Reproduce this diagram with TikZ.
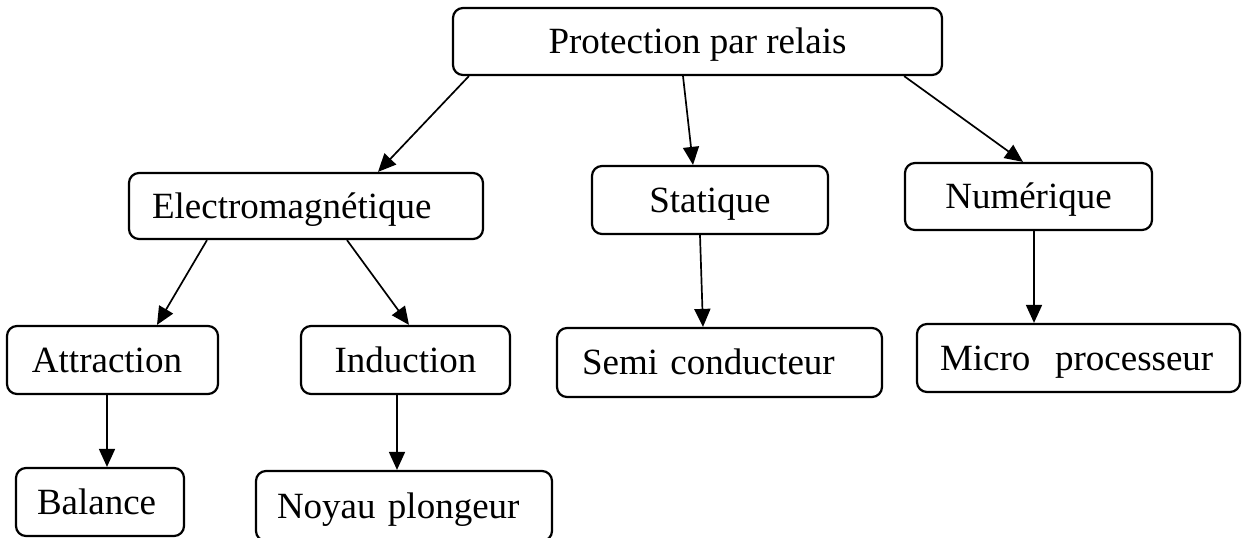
\documentclass[tikz,border=0pt]{standalone}
\usepackage{fontspec}
\setmainfont{Liberation Serif}
\usetikzlibrary{positioning, arrows.meta}

\tikzset{
  boite/.style={draw, line width=1.1pt, rounded corners=5pt, inner sep=0pt,
    font=\fontsize{18.5}{22}\selectfont, text height=12.2pt, text depth=0pt},
  centre/.style 2 args={boite, minimum width=#1, minimum height=#2},
  gauche/.style n args={3}{boite, text width=#1, inner xsep=#2, align=left, minimum height=#3},
  fleche/.style={line width=0.85pt, -{Triangle[length=9pt,width=8pt]}}
}

\begin{document}
\begin{tikzpicture}[x=0.5pt, y=-0.5pt]
        \useasboundingbox (0,0) rectangle (1242,537);
        \node[centre={244.5pt}{33.5pt}] (prot) at (697.5,41.5) {Protection par relais};
        \node[gauche={154pt}{11.5pt}{33pt}] (elec) at (306,206) {Electromagnétique};
        \node[centre={118pt}{34pt}] (stat) at (710,200) {Statique};
        \node[centre={123.5pt}{33.5pt}] (num) at (1028.5,196.5) {Numérique};
        \node[gauche={80.5pt}{12.5pt}{34pt}] (attr) at (112.5,360) {Attraction};
        \node[centre={104.5pt}{34pt}] (ind) at (405.5,360) {Induction};
        \node[gauche={137.5pt}{12.5pt}{34.5pt}] (semi) at (719.5,362.5) {Semi conducteur};
        \node[gauche={138.5pt}{11.5pt}{34pt}] (micro) at (1078.5,358) {Micro\ \ processeur};
        \node[gauche={63pt}{10.5pt}{34pt}] (bal) at (100,502) {Balance};
        \node[gauche={127pt}{10.5pt}{35pt}] (noy) at (404,506) {Noyau plongeur};
        \draw[fleche] ([xshift=8.5pt]prot.south west) -- ([xshift=36pt]elec.north);
        \draw[fleche] ([xshift=-7.25pt]prot.south) -- ([xshift=-8.5pt]stat.north);
        \draw[fleche] ([xshift=-19.5pt]prot.south east) -- ([xshift=-2.75pt]num.north);
        \draw[fleche] ([xshift=-49.5pt]elec.south) -- ([xshift=22.25pt]attr.north);
        \draw[fleche] ([xshift=20.5pt]elec.south) -- ([xshift=1.75pt]ind.north);
        \draw[fleche] ([xshift=-2.75pt]attr.south) -- ([xshift=3.5pt]bal.north);
        \draw[fleche] ([xshift=-4.25pt]ind.south) -- ([xshift=-3.5pt]noy.north);
        \draw[fleche] ([xshift=-5pt]stat.south) -- ([xshift=-8.25pt]semi.north);
        \draw[fleche] ([xshift=2.75pt]num.south) -- ([xshift=-22.25pt]micro.north);
    \end{tikzpicture}
\end{document}
